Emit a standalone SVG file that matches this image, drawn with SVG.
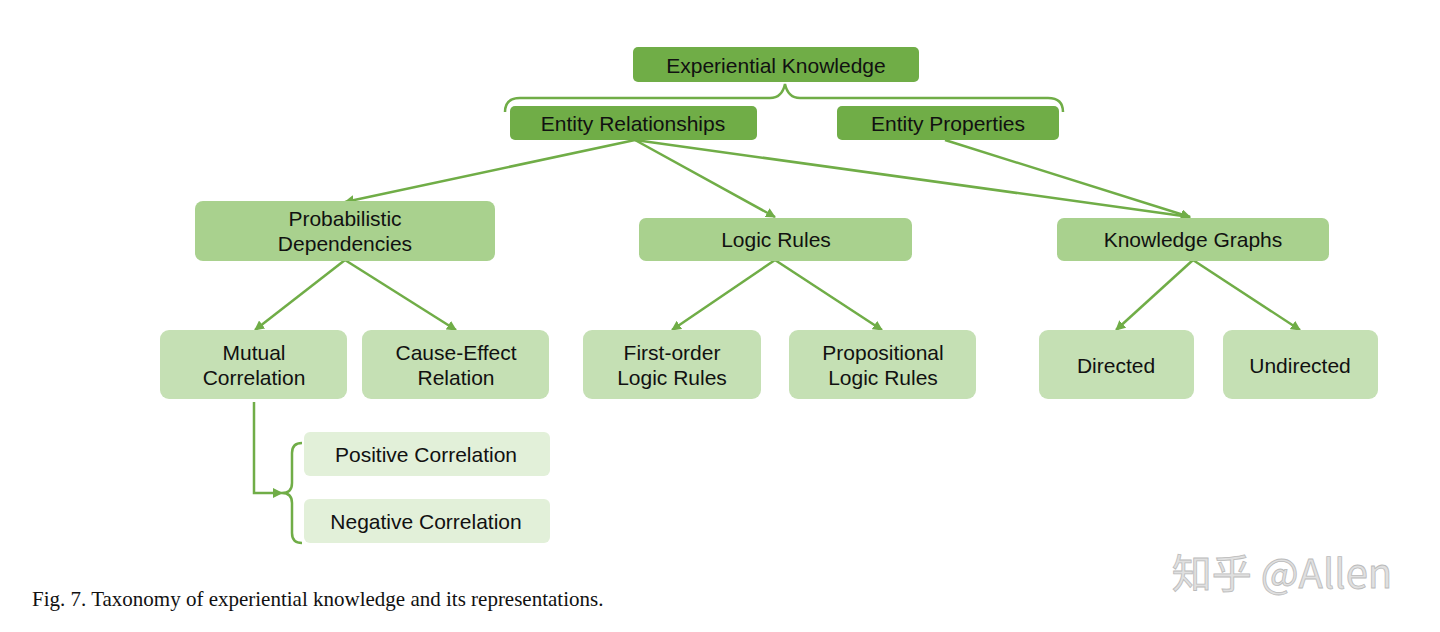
<svg xmlns="http://www.w3.org/2000/svg" width="1440" height="632" viewBox="0 0 1440 632">
<style>
text{font-family:"Liberation Sans",Arial,sans-serif;font-size:21px;fill:#111;text-anchor:middle}
.d{fill:#70ad47}.m{fill:#a9d18e}.l{fill:#c5e0b4}.x{fill:#e2f0d9}
.c path{fill:none;stroke:#70ad47;stroke-width:2.5}
</style>
<defs><marker id="a" viewBox="0 0 10 10" refX="9" refY="5" markerWidth="4" markerHeight="4" orient="auto"><path d="M0,0L10,5L0,10z" fill="#70ad47"/></marker></defs>
<rect width="1440" height="632" fill="#fff"/>
<g class="c">
<path d="M505,112 Q505,98 520,98 L770,98 Q782,98 785,84 Q788,98 800,98 L1048,98 Q1063,98 1063,112"/>
<path d="M635,140 L345,202" marker-end="url(#a)"/>
<path d="M635,140 L775,217" marker-end="url(#a)"/>
<path d="M635,140 L1190,217" marker-end="url(#a)"/>
<path d="M945,140 L1190,217" marker-end="url(#a)"/>
<path d="M345,260 L255,330" marker-end="url(#a)"/>
<path d="M345,260 L456,330" marker-end="url(#a)"/>
<path d="M775,260 L672,330" marker-end="url(#a)"/>
<path d="M775,260 L882,330" marker-end="url(#a)"/>
<path d="M1193,260 L1116,330" marker-end="url(#a)"/>
<path d="M1193,260 L1300,330" marker-end="url(#a)"/>
<path d="M254,402 L254,493 L282,493" marker-end="url(#a)"/>
<path d="M302,443 Q292,443 292,453 L292,483 Q292,493 282,493 Q292,493 292,503 L292,533 Q292,543 302,543"/>
</g>
<g id="n1"><rect class="d" x="633" y="47" width="286" height="35" rx="5"/><text x="776" y="73">Experiential Knowledge</text></g>
<g id="n2"><rect class="d" x="510" y="106" width="247" height="34" rx="5"/><text x="633" y="131">Entity Relationships</text></g>
<g id="n3"><rect class="d" x="837" y="106" width="222" height="34" rx="5"/><text x="948" y="131">Entity Properties</text></g>
<g id="n4"><rect class="m" x="195" y="201" width="300" height="60" rx="8"/><text x="345" y="226">Probabilistic</text><text x="345" y="251">Dependencies</text></g>
<g id="n5"><rect class="m" x="639" y="218" width="273" height="43" rx="7"/><text x="776" y="247">Logic Rules</text></g>
<g id="n6"><rect class="m" x="1057" y="218" width="272" height="43" rx="7"/><text x="1193" y="247">Knowledge Graphs</text></g>
<g id="n7"><rect class="l" x="160" y="330" width="187" height="69" rx="9"/><text x="254" y="360">Mutual</text><text x="254" y="385">Correlation</text></g>
<g id="n8"><rect class="l" x="362" y="330" width="187" height="69" rx="9"/><text x="456" y="360">Cause-Effect</text><text x="456" y="385">Relation</text></g>
<g id="n9"><rect class="l" x="583" y="330" width="178" height="69" rx="9"/><text x="672" y="360">First-order</text><text x="672" y="385">Logic Rules</text></g>
<g id="n10"><rect class="l" x="789" y="330" width="187" height="69" rx="9"/><text x="883" y="360">Propositional</text><text x="883" y="385">Logic Rules</text></g>
<g id="n11"><rect class="l" x="1039" y="330" width="155" height="69" rx="9"/><text x="1116" y="373">Directed</text></g>
<g id="n12"><rect class="l" x="1223" y="330" width="155" height="69" rx="9"/><text x="1300" y="373">Undirected</text></g>
<g id="n13"><rect class="x" x="304" y="432" width="246" height="44" rx="6"/><text x="426" y="462">Positive Correlation</text></g>
<g id="n14"><rect class="x" x="304" y="499" width="246" height="44" rx="6"/><text x="426" y="529">Negative Correlation</text></g>
<text x="32" y="606" style="font-family:'Liberation Serif',serif;font-size:21px;text-anchor:start">Fig. 7.  Taxonomy of experiential knowledge and its representations.</text>
<text x="1282" y="588" style="font-family:'Noto Sans CJK SC','Liberation Sans',sans-serif;font-size:40px;fill:#e0e0e0;stroke:#bbb;stroke-width:0.8">知乎 @Allen</text>
</svg>
